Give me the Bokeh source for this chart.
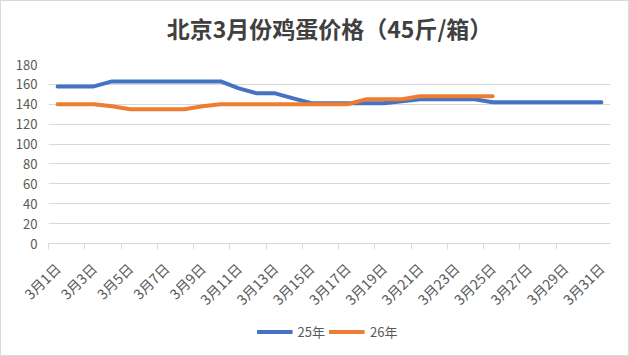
import math
from bokeh.plotting import figure
from bokeh.layouts import column
from bokeh.models import (FixedTicker, Legend, LegendItem, Range1d,
                          ColumnDataSource)
from bokeh.core.properties import value
from bokeh.embed import file_html
from bokeh.resources import INLINE

# ---------------- data ----------------
dates = ["3月1日", "3月2日", "3月3日", "3月4日", "3月5日", "3月6日", "3月7日",
         "3月8日", "3月9日", "3月10日", "3月11日", "3月12日", "3月13日",
         "3月14日", "3月15日", "3月16日", "3月17日", "3月18日", "3月19日",
         "3月20日", "3月21日", "3月22日", "3月23日", "3月24日", "3月25日",
         "3月26日", "3月27日", "3月28日", "3月29日", "3月30日", "3月31日"]

price_25 = [158, 158, 158, 163, 163, 163, 163, 163, 163, 163,
            156, 151, 151, 146, 141, 141, 141, 141, 141, 143,
            145, 145, 145, 145, 142, 142, 142, 142, 142, 142, 142]

price_26 = [140, 140, 140, 138, 135, 135, 135, 135, 138, 140,
            140, 140, 140, 140, 140, 140, 140, 145, 145, 145,
            148, 148, 148, 148, 148]

y_ticks = [0, 20, 40, 60, 80, 100, 120, 140, 160, 180]
series_names = ["25年", "26年"]
title_text = "北京3月份鸡蛋价格（45斤/箱）"

# ---------------- styling ----------------
CJK = "Noto Sans CJK SC"
BLUE = "#4472C4"
ORANGE = "#ED7D31"
GRID = "#D9D9D9"
LABEL = "#595959"

n = len(dates)
pos = list(range(1, n + 1))

src25 = ColumnDataSource(dict(x=pos[:len(price_25)], y=price_25))
src26 = ColumnDataSource(dict(x=pos[:len(price_26)], y=price_26))

# ---------------- title strip ----------------
tp = figure(width=627, height=52, output_backend="svg", toolbar_location=None,
            x_range=Range1d(0, 1), y_range=Range1d(0, 1),
            x_axis_location=None, y_axis_location=None,
            min_border_left=0, min_border_right=0, min_border_top=0,
            min_border_bottom=0, outline_line_color=None,
            background_fill_color="white", border_fill_color="white")
tp.grid.visible = False
tp.text(x=[0.5], y=[0.5], text=[title_text], text_align="center",
        text_baseline="middle", text_font=value(CJK),
        text_font_size="23px", text_font_style="bold", text_color="#404040")

# ---------------- main chart ----------------
p = figure(frame_width=562, frame_height=179, output_backend="svg",
           toolbar_location=None,
           x_range=Range1d(0.5, n + 0.5), y_range=Range1d(y_ticks[0], y_ticks[-1]),
           min_border_left=47, min_border_right=18, min_border_top=11,
           min_border_bottom=112, outline_line_color=None,
           background_fill_color="white", border_fill_color="white")

r1 = p.line("x", "y", source=src25, line_color=BLUE, line_width=4,
            line_join="round", line_cap="round")
r2 = p.line("x", "y", source=src26, line_color=ORANGE, line_width=4,
            line_join="round", line_cap="round")

p.yaxis.ticker = FixedTicker(ticks=y_ticks)
p.yaxis.axis_line_color = None
p.yaxis.major_tick_line_color = None
p.yaxis.minor_tick_line_color = None
p.yaxis.major_tick_out = 0
p.yaxis.major_tick_in = 0
p.yaxis.major_label_standoff = 11
p.yaxis.major_label_text_font = CJK
p.yaxis.major_label_text_font_size = "13px"
p.yaxis.major_label_text_color = LABEL

p.ygrid.ticker = FixedTicker(ticks=y_ticks)
p.ygrid.grid_line_color = GRID
p.ygrid.grid_line_width = 1
p.xgrid.grid_line_color = None

label_pos = pos[::2]
tick_pos = [x - 0.5 for x in pos[::2] if x < n]
p.xaxis.ticker = FixedTicker(ticks=label_pos, minor_ticks=tick_pos)
p.xaxis.major_label_overrides = {x: dates[x - 1] for x in label_pos}
p.xaxis.major_label_orientation = math.pi / 4
p.xaxis.axis_line_color = GRID
p.xaxis.major_tick_line_color = None
p.xaxis.major_tick_out = 0
p.xaxis.major_tick_in = 0
p.xaxis.minor_tick_line_color = GRID
p.xaxis.minor_tick_out = 6
p.xaxis.minor_tick_in = 0
p.xaxis.major_label_standoff = 16
p.xaxis.major_label_text_font = CJK
p.xaxis.major_label_text_font_size = "14px"
p.xaxis.major_label_text_color = LABEL

# ---------------- legend strip (overlaid at the bottom) ----------------
lp = figure(width=627, height=32, output_backend="svg", toolbar_location=None,
            x_range=Range1d(0.5, n + 0.5), y_range=Range1d(0, 1),
            x_axis_location=None, y_axis_location=None,
            min_border_left=0, min_border_right=0, min_border_top=0,
            min_border_bottom=0, outline_line_color=None,
            background_fill_alpha=0, border_fill_alpha=0)
lp.grid.visible = False
lr1 = lp.line("x", "y", source=src25, line_color=BLUE, line_width=4)
lr2 = lp.line("x", "y", source=src26, line_color=ORANGE, line_width=4)
legend = Legend(items=[LegendItem(label=series_names[0], renderers=[lr1]),
                       LegendItem(label=series_names[1], renderers=[lr2])],
                orientation="horizontal", location="center",
                glyph_width=36, glyph_height=16, label_standoff=5,
                spacing=4, padding=0, margin=0, border_line_color=None,
                background_fill_alpha=0, label_text_font=CJK,
                label_text_font_size="13px", label_text_color=LABEL)
lp.add_layout(legend, "center")
lp.styles = {"position": "absolute", "top": "314px", "left": "-2px"}

layout = column(tp, p, lp, spacing=0)
layout.styles = {"border": "1px solid #D9D9D9", "position": "relative"}

open("out.html", "w").write(file_html(layout, INLINE))
